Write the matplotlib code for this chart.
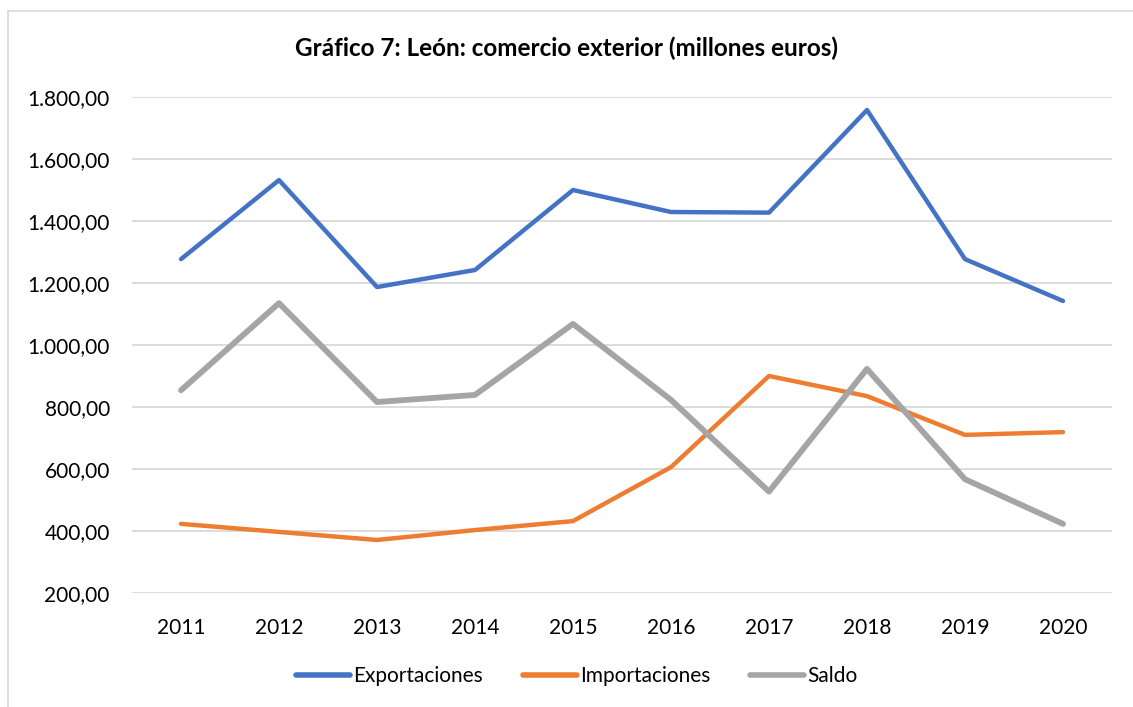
import numpy as np
import matplotlib.pyplot as plt
from matplotlib.lines import Line2D

# Data (millones de euros)
years = ['2011', '2012', '2013', '2014', '2015', '2016', '2017', '2018', '2019', '2020']
exportaciones = [1277, 1532, 1187, 1242, 1500, 1429, 1427, 1758, 1277, 1142]
importaciones = [423, 397, 371, 403, 432, 606, 900, 835, 710, 719]
saldo = [854, 1135, 816, 839, 1068, 823, 527, 923, 567, 423]

plt.rcParams['font.family'] = ['Lato', 'DejaVu Sans']

fig = plt.figure(figsize=(11.33, 7.07), dpi=100)
ax = fig.add_axes([132 / 1133, 1 - 593 / 707, 980 / 1133, 496 / 707])

x = np.arange(len(years))
ax.plot(x, exportaciones, color='#4472C4', lw=3.2, label='Exportaciones', solid_capstyle='round')
ax.plot(x, importaciones, color='#ED7D31', lw=3.2, label='Importaciones', solid_capstyle='round')
ax.plot(x, saldo, color='#A5A5A5', lw=4.2, label='Saldo', solid_capstyle='round')

ax.set_xlim(-0.5, len(years) - 0.5)
ax.set_ylim(200, 1800)
ax.set_yticks(np.arange(200, 1801, 200))
ax.set_yticklabels([f'{v:,.2f}'.replace(',', 'X').replace('.', ',').replace('X', '.') for v in range(200, 1801, 200)])
ax.set_xticks(x)
ax.set_xticklabels(years)
ax.tick_params(axis='both', length=0, labelsize=15, colors='#000000')
ax.tick_params(axis='y', pad=16)
ax.tick_params(axis='x', pad=18)
ax.grid(axis='y', color='#D9D9D9', lw=1.3)
ax.set_axisbelow(True)
for s in ax.spines.values():
    s.set_visible(False)

fig.text(0.5, 1 - 48 / 707, 'Gráfico 7: León: comercio exterior (millones euros)',
         ha='center', va='center', fontsize=17.5, fontweight='bold')

handles = [Line2D([], [], color='#4472C4', lw=4, solid_capstyle='round'),
           Line2D([], [], color='#ED7D31', lw=4, solid_capstyle='round'),
           Line2D([], [], color='#A5A5A5', lw=4, solid_capstyle='round')]
fig.legend(handles, ['Exportaciones', 'Importaciones', 'Saldo'], loc='center',
           bbox_to_anchor=(0.509, 1 - 676 / 707), ncol=3, frameon=False, fontsize=15,
           handlelength=2.6, handletextpad=0.15, columnspacing=1.9)

# chart border (left and top visible)
fig.add_artist(Line2D([8 / 1133, 8 / 1133], [0, 1 - 11 / 707], color='#D9D9D9', lw=1.2))
fig.add_artist(Line2D([8 / 1133, 1], [1 - 11 / 707, 1 - 11 / 707], color='#D9D9D9', lw=1.2))

fig.savefig('out.png', dpi=100)
